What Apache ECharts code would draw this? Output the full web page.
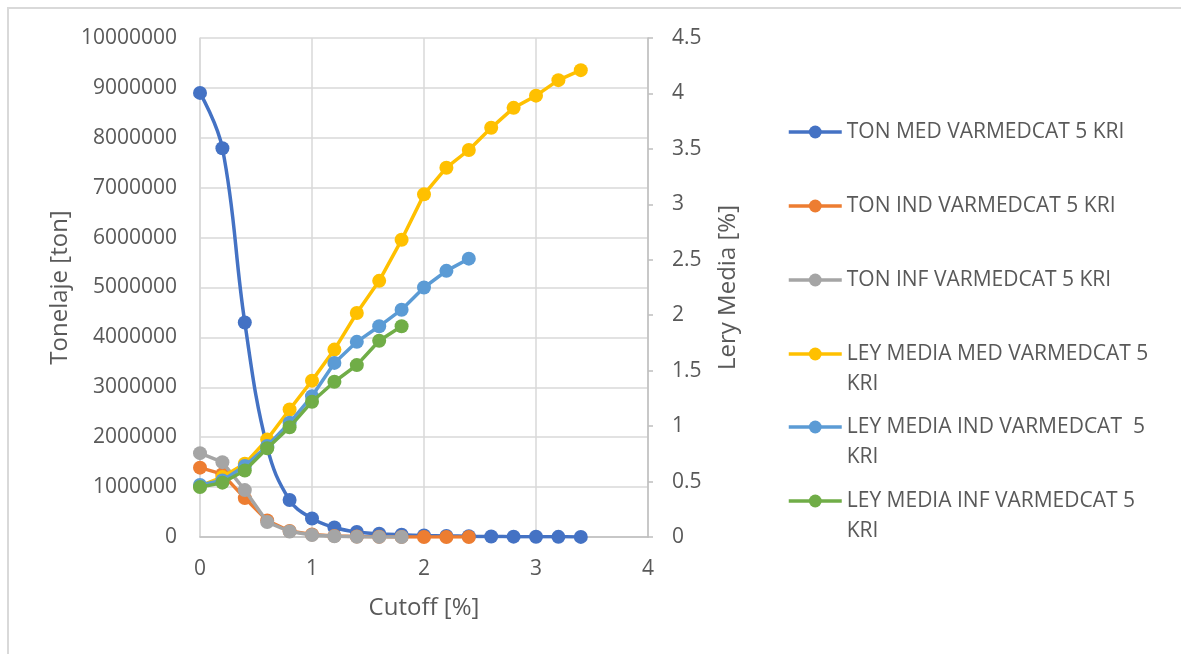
<!DOCTYPE html>
<html>
<head>
<meta charset="utf-8">
<script src="https://cdn.jsdelivr.net/npm/echarts@6/dist/echarts.min.js"></script>
<style>
html,body{margin:0;padding:0;background:#fff;overflow:hidden;}
#main{width:1181px;height:654px;position:absolute;left:0;top:0;}
#frame{position:absolute;left:7px;top:7px;width:1300px;height:800px;border:2px solid #d9d9d9;pointer-events:none;}
</style>
</head>
<body>
<div id="main"></div>
<div id="frame"></div>
<script>
var cutoff = [0,0.2,0.4,0.6,0.8,1.0,1.2,1.4,1.6,1.8,2.0,2.2,2.4,2.6,2.8,3.0,3.2,3.4];
var tonMed = [8900000,7790000,4300000,1800000,740000,370000,190000,100000,65000,45000,30000,22000,15000,10000,7000,5000,3000,2000];
var tonInd = [1390000,1260000,780000,330000,120000,50000,22000,10000,5000,2500,1200,600,300];
var tonInf = [1680000,1500000,940000,300000,110000,40000,15000,6000,2500,1000];
var leyMed = [0.46,0.54,0.66,0.88,1.15,1.41,1.69,2.02,2.31,2.68,3.09,3.33,3.49,3.69,3.87,3.98,4.12,4.21];
var leyInd = [0.47,0.51,0.64,0.82,1.03,1.27,1.57,1.76,1.90,2.05,2.25,2.40,2.51];
var leyInf = [0.45,0.49,0.60,0.80,0.99,1.22,1.40,1.55,1.77,1.90];
var names = ['TON MED VARMEDCAT 5 KRI','TON IND VARMEDCAT 5 KRI','TON INF VARMEDCAT 5 KRI',
  'LEY MEDIA MED VARMEDCAT 5 KRI','LEY MEDIA IND VARMEDCAT  5 KRI','LEY MEDIA INF VARMEDCAT 5 KRI'];
var legendLabels = ['TON MED VARMEDCAT 5 KRI','TON IND VARMEDCAT 5 KRI','TON INF VARMEDCAT 5 KRI',
  '\nLEY MEDIA MED VARMEDCAT 5\nKRI','\nLEY MEDIA IND VARMEDCAT  5\nKRI','\nLEY MEDIA INF VARMEDCAT 5\nKRI'];
var colors = ['#4472C4','#ED7D31','#A5A5A5','#FFC000','#5B9BD5','#70AD47'];
var legendCenters = [132,206,280,354,427,501];

function pairs(xs, ys){ return ys.map(function(v,i){ return [xs[i], v]; }); }
var seriesData = [tonMed, tonInd, tonInf, leyMed, leyInd, leyInf];

var FONT = 'Open Sans';
var TXT = '#595959';

var chart = echarts.init(document.getElementById('main'), null, {renderer:'canvas'});

var series = seriesData.map(function(d, i){
  return {
    name: names[i],
    type: 'line',
    yAxisIndex: i < 3 ? 0 : 1,
    data: pairs(cutoff, d),
    smooth: i === 0 ? 0.4 : false,
    symbol: 'circle',
    symbolSize: 14,
    showSymbol: true,
    lineStyle: {width: 3.5, color: colors[i]},
    itemStyle: {color: colors[i]},
    animation: false,
    z: 2 + i
  };
});

var legends = names.map(function(n, i){
  var multi = i >= 3;
  var h = multi ? 90 : 30;
  return {
    data: [n],
    orient: 'vertical',
    left: 787,
    top: legendCenters[i] - h/2,
    padding: 0,
    itemWidth: 53,
    itemHeight: 16,
    lineStyle: {width: 3.5},
    formatter: function(){ return legendLabels[i]; },
    textStyle: {fontFamily: FONT, fontSize: 21, color: TXT, lineHeight: 30},
    selectedMode: false
  };
});

chart.setOption({
  backgroundColor: '#fff',
  animation: false,
  textStyle: {fontFamily: FONT},
  legend: legends,
  grid: {left: 200, right: 533, top: 38, bottom: 117, containLabel: false},
  xAxis: {
    type: 'value', min: 0, max: 4, interval: 1,
    name: 'Cutoff [%]', nameLocation: 'middle', nameGap: 59,
    nameTextStyle: {fontFamily: FONT, fontSize: 24, color: TXT},
    axisLine: {show: true, lineStyle: {color: '#bfbfbf', width: 1.5}},
    axisTick: {show: false},
    axisLabel: {fontFamily: FONT, fontSize: 21, color: TXT, margin: 22},
    splitLine: {show: true, lineStyle: {color: '#d9d9d9', width: 1.5}}
  },
  yAxis: [{
    type: 'value', min: 0, max: 10000000, interval: 1000000, position: 'left',
    name: 'Tonelaje [ton]', nameLocation: 'middle', nameGap: 128,
    nameTextStyle: {fontFamily: FONT, fontSize: 24, color: TXT},
    axisLine: {show: true, lineStyle: {color: '#d9d9d9', width: 1.5}},
    axisTick: {show: false},
    axisLabel: {fontFamily: FONT, fontSize: 21, color: TXT, margin: 23,
      formatter: function(v){ return String(Math.round(v)); }},
    splitLine: {show: true, lineStyle: {color: '#d9d9d9', width: 1.5}}
  },{
    type: 'value', min: 0, max: 4.5, interval: 0.5, position: 'right',
    name: 'Lery Media [%]', nameLocation: 'middle', nameGap: 68,
    nameTextStyle: {fontFamily: FONT, fontSize: 24, color: TXT},
    axisLine: {show: true, lineStyle: {color: '#bfbfbf', width: 1.5}},
    axisTick: {show: true, length: 5, lineStyle: {color: '#bfbfbf', width: 1.5}},
    axisLabel: {fontFamily: FONT, fontSize: 21, color: TXT, margin: 24},
    splitLine: {show: false}
  }],
  series: series
});
</script>
</body>
</html>
